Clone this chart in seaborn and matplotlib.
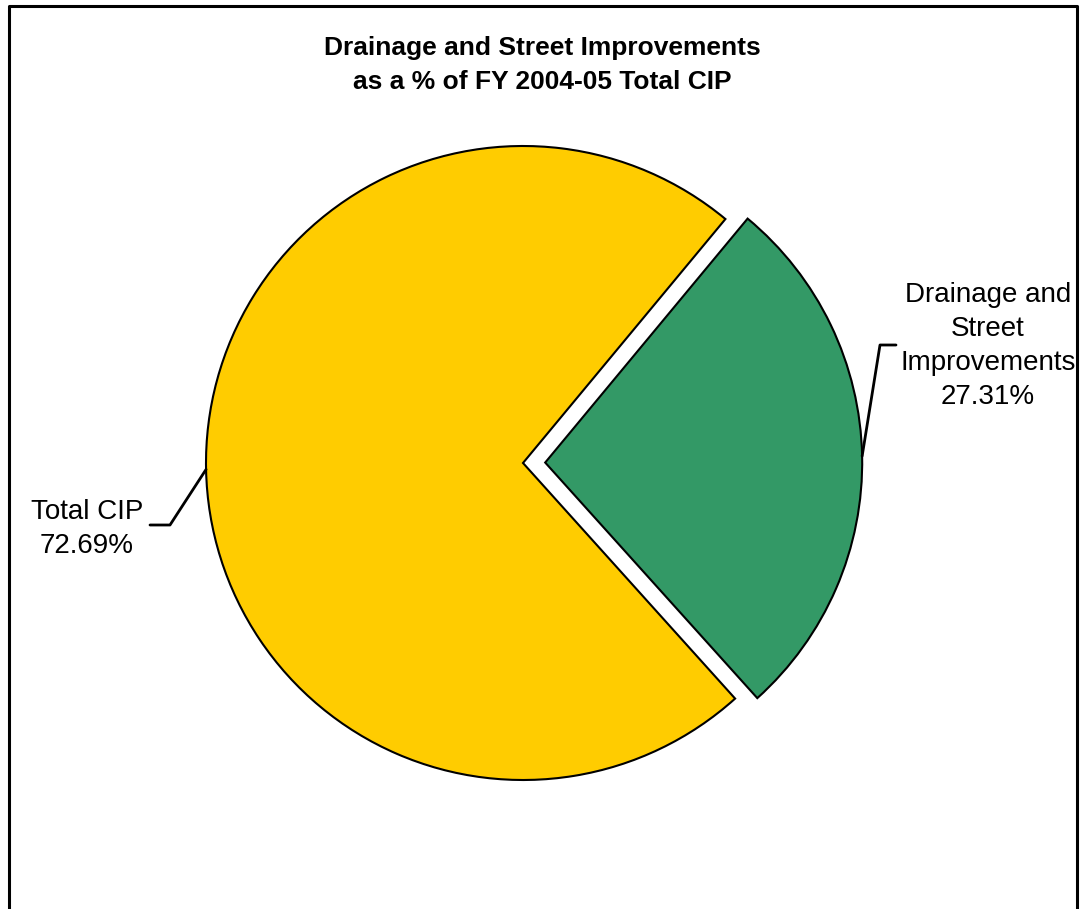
import numpy as np
import matplotlib
matplotlib.use("Agg")
import matplotlib.pyplot as plt
import seaborn as sns
from matplotlib.lines import Line2D

categories = ["Drainage and\nStreet\nImprovements", "Total CIP"]
values = [27.31, 72.69]
colors = ["#339966", "#FFCC00"]
title = "Drainage and Street Improvements\nas a % of FY 2004-05 Total CIP"

sns.set_theme(style="white")
plt.rcParams['font.family'] = ['Liberation Sans', 'DejaVu Sans']

W, H = 1084, 909
fig = plt.figure(figsize=(W / 100, H / 100), dpi=100)
ax = fig.add_axes([0, 0, 1, 1])

cx, cy, r = 523, H - 463, 317
offset = 0.07 * r
explode = [offset, 0.0]
start = -48.0
wedges, _ = ax.pie(values, colors=colors, startangle=start, counterclock=True,
                   explode=explode, center=(cx, cy), radius=r,
                   wedgeprops=dict(edgecolor="black", linewidth=1.5),
                   frame=True)
ax.set_xlim(0, W)
ax.set_ylim(0, H)
ax.set_aspect("equal")
ax.axis("off")

# mid angles of wedges
angles = []
acc = start
for v in values:
    span = v / sum(values) * 360
    angles.append(acc + span / 2)
    acc += span

# green leader + label
a = np.deg2rad(angles[0])
gx, gy = cx + offset * np.cos(a), cy + offset * np.sin(a)
p0 = (gx + r * np.cos(a), gy + r * np.sin(a))
ax.plot([p0[0], 880, 896], [p0[1], H - 345, H - 345], color="black", lw=2)
ax.text(988, H - 346, f"{categories[0]}\n{values[0]:.2f}%", ha="center", va="center",
        fontsize=20, linespacing=1.4, color="black")

# yellow leader + label
a = np.deg2rad(angles[1])
p1 = (cx + r * np.cos(a), cy + r * np.sin(a))
ax.plot([p1[0], 170, 150], [p1[1], H - 525, H - 525], color="black", lw=2)
ax.text(87, H - 529, f"{categories[1]}\n{values[1]:.2f}%", ha="center", va="center",
        fontsize=20, linespacing=1.4, color="black")

# title
ax.text(W / 2, H - 65, title, ha="center", va="center", fontsize=19,
        fontweight="bold", linespacing=1.55, color="black")

# frame (left, top, right)
fig.add_artist(Line2D([9 / W, 9 / W, 1077 / W, 1077 / W],
                      [0, 1 - 6 / H, 1 - 6 / H, 0],
                      transform=fig.transFigure, color="black", lw=2.2))

fig.savefig("out.png", dpi=100)
